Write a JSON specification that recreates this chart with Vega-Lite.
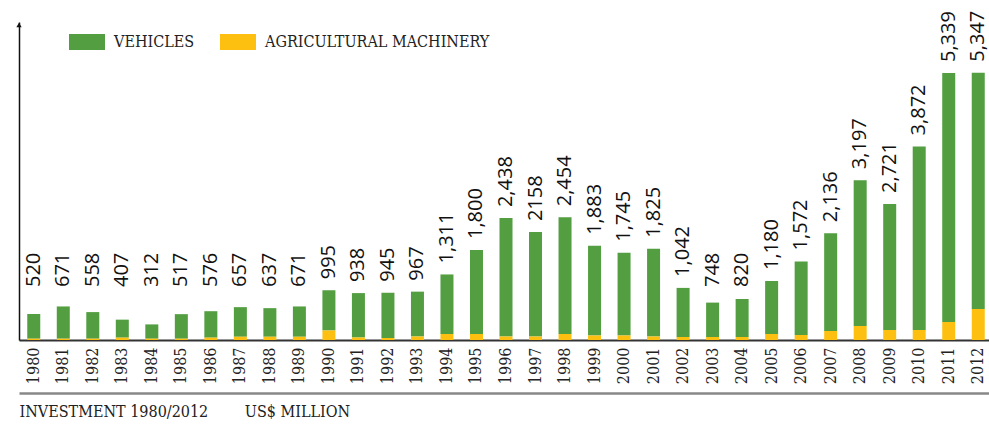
{
  "$schema": "https://vega.github.io/schema/vega-lite/v6.json",
  "autosize": "none",
  "padding": {"left": 19, "top": 22, "right": 0, "bottom": 85},
  "width": 974,
  "height": 318,
  "background": "white",
  "config": {"view": {"stroke": null}},
  "datasets": {
    "inv": [
      {"year": "1980", "vehicles": 494, "agri": 26, "total": 520, "label": "520"},
      {"year": "1981", "vehicles": 645, "agri": 26, "total": 671, "label": "671"},
      {"year": "1982", "vehicles": 532, "agri": 26, "total": 558, "label": "558"},
      {"year": "1983", "vehicles": 360, "agri": 47, "total": 407, "label": "407"},
      {"year": "1984", "vehicles": 286, "agri": 26, "total": 312, "label": "312"},
      {"year": "1985", "vehicles": 491, "agri": 26, "total": 517, "label": "517"},
      {"year": "1986", "vehicles": 529, "agri": 47, "total": 576, "label": "576"},
      {"year": "1987", "vehicles": 592, "agri": 65, "total": 657, "label": "657"},
      {"year": "1988", "vehicles": 572, "agri": 65, "total": 637, "label": "637"},
      {"year": "1989", "vehicles": 606, "agri": 65, "total": 671, "label": "671"},
      {"year": "1990", "vehicles": 805, "agri": 190, "total": 995, "label": "995"},
      {"year": "1991", "vehicles": 888, "agri": 50, "total": 938, "label": "938"},
      {"year": "1992", "vehicles": 905, "agri": 40, "total": 945, "label": "945"},
      {"year": "1993", "vehicles": 897, "agri": 70, "total": 967, "label": "967"},
      {"year": "1994", "vehicles": 1191, "agri": 120, "total": 1311, "label": "1,311"},
      {"year": "1995", "vehicles": 1680, "agri": 120, "total": 1800, "label": "1,800"},
      {"year": "1996", "vehicles": 2368, "agri": 70, "total": 2438, "label": "2,438"},
      {"year": "1997", "vehicles": 2088, "agri": 70, "total": 2158, "label": "2158"},
      {"year": "1998", "vehicles": 2334, "agri": 120, "total": 2454, "label": "2,454"},
      {"year": "1999", "vehicles": 1793, "agri": 90, "total": 1883, "label": "1,883"},
      {"year": "2000", "vehicles": 1655, "agri": 90, "total": 1745, "label": "1,745"},
      {"year": "2001", "vehicles": 1755, "agri": 70, "total": 1825, "label": "1,825"},
      {"year": "2002", "vehicles": 982, "agri": 60, "total": 1042, "label": "1,042"},
      {"year": "2003", "vehicles": 688, "agri": 60, "total": 748, "label": "748"},
      {"year": "2004", "vehicles": 760, "agri": 60, "total": 820, "label": "820"},
      {"year": "2005", "vehicles": 1060, "agri": 120, "total": 1180, "label": "1,180"},
      {"year": "2006", "vehicles": 1472, "agri": 100, "total": 1572, "label": "1,572"},
      {"year": "2007", "vehicles": 1956, "agri": 180, "total": 2136, "label": "2,136"},
      {"year": "2008", "vehicles": 2917, "agri": 280, "total": 3197, "label": "3,197"},
      {"year": "2009", "vehicles": 2521, "agri": 200, "total": 2721, "label": "2,721"},
      {"year": "2010", "vehicles": 3672, "agri": 200, "total": 3872, "label": "3,872"},
      {"year": "2011", "vehicles": 4979, "agri": 360, "total": 5339, "label": "5,339"},
      {"year": "2012", "vehicles": 4727, "agri": 620, "total": 5347, "label": "5,347"}
    ],
    "axisanchor": [{"pos": 0, "top": 6300}]
  },
  "layer": [
    {
      "data": {"name": "inv"},
      "layer": [
        {
          "transform": [{"fold": ["vehicles", "agri"], "as": ["type", "value"]}],
          "mark": {"type": "bar", "width": 13},
          "encoding": {
            "x": {
              "field": "year", "type": "nominal", "sort": null,
              "scale": {"paddingInner": 0.56, "paddingOuter": 0.28},
              "axis": {
                "title": null, "labelAngle": -90, "ticks": false,
                "labelFont": "DejaVu Serif Condensed", "labelFontSize": 16,
                "labelColor": "#222", "labelPadding": 7,
                "domainColor": "#333", "domainWidth": 2
              }
            },
            "y": {
              "field": "value", "type": "quantitative", "stack": "zero",
              "scale": {"domain": [0, 6360], "nice": false},
              "axis": {"title": null, "labels": false, "ticks": false, "grid": false, "domainColor": "#111", "domainWidth": 1.5}
            },
            "color": {
              "field": "type", "type": "nominal",
              "scale": {"domain": ["vehicles", "agri"], "range": ["#529e40", "#fdc010"]},
              "legend": {
                "title": null, "orient": "none", "direction": "horizontal",
                "legendX": 50, "legendY": 2,
                "labelExpr": "datum.value == 'vehicles' ? 'VEHICLES' : 'AGRICULTURAL MACHINERY'",
                "labelFont": "DejaVu Serif Condensed", "labelFontSize": 16, "labelColor": "#222",
                "labelOffset": 9, "columnPadding": 25, "labelLimit": 0,
                "symbolType": "M-1,-0.444H1V0.444H-1Z", "symbolSize": 1296,
                "symbolStrokeWidth": 0, "symbolOpacity": 1
              }
            },
            "order": {"field": "type", "sort": "ascending"}
          }
        },
        {
          "transform": [{"calculate": "max(datum.total, 840)", "as": "anchor"}],
          "mark": {"type": "text", "angle": 270, "align": "left", "baseline": "middle", "dx": 11, "font": "Open Sans", "fontSize": 20, "color": "#111"},
          "encoding": {
            "x": {"field": "year", "type": "nominal", "sort": null},
            "y": {"field": "anchor", "type": "quantitative"},
            "text": {"field": "label"}
          }
        }
      ]
    },
    {
      "data": {"name": "axisanchor"},
      "mark": {"type": "point", "shape": "triangle-up", "filled": true, "size": 28, "color": "#111", "opacity": 1},
      "encoding": {
        "x": {
          "field": "pos", "type": "quantitative",
          "scale": {"domain": [0, 1], "nice": false, "zero": true},
          "axis": {
            "orient": "bottom", "domain": true, "labels": false, "ticks": false, "grid": false,
            "domainColor": "#888888", "domainWidth": 2.5, "domainOpacity": 1, "offset": 53,
            "title": "INVESTMENT 1980/2012\u00a0\u00a0\u00a0\u00a0\u00a0\u00a0\u00a0\u00a0US$ MILLION",
            "titleFont": "DejaVu Serif Condensed", "titleFontSize": 16, "titleFontWeight": "normal",
            "titleColor": "#222", "titleAnchor": "start", "titleAlign": "left", "titlePadding": 10
          }
        },
        "y": {"field": "top", "type": "quantitative"}
      }
    }
  ],
  "resolve": {"scale": {"x": "independent"}, "axis": {"x": "independent"}}
}
